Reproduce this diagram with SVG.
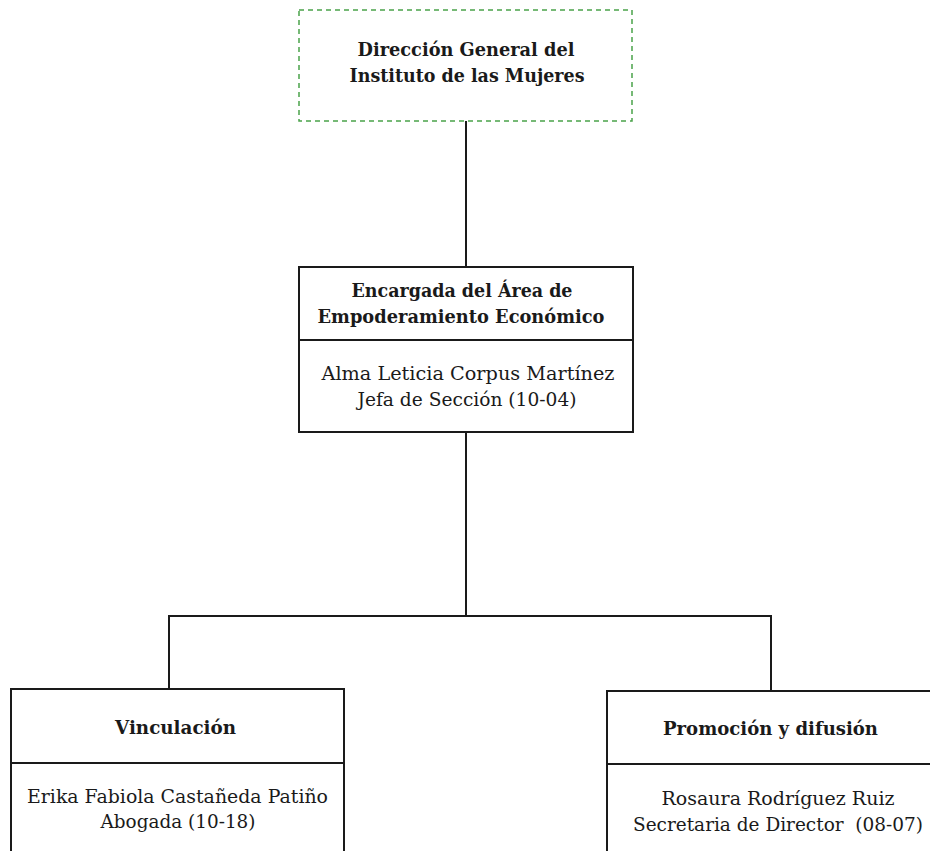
<svg xmlns="http://www.w3.org/2000/svg" width="930" height="851" viewBox="0 0 930 851">
<style>
.box{fill:#fff;stroke:#1a1a1a;stroke-width:2}
.dash{fill:#fff;stroke:#4aa24a;stroke-width:1.5;stroke-dasharray:5 4}
.div{stroke:#1a1a1a;stroke-width:2}
.con{fill:none;stroke:#1a1a1a;stroke-width:2}
.t{font-family:"DejaVu Serif","Liberation Serif",serif;fill:#1a1a1a;text-anchor:middle}
.b{font-weight:bold;font-size:18px}
.r{font-size:19px}
</style>
<rect width="930" height="851" fill="#fff"/>
<g id="connectors">
<line class="con" x1="466" y1="121" x2="466" y2="267"/>
<line class="con" x1="466" y1="432" x2="466" y2="616"/>
<polyline class="con" points="169,689 169,616 771,616 771,691"/>
</g>
<g id="n-direccion">
<rect class="dash" x="299" y="10" width="333" height="111"/>
<text class="t b" x="466" y="56" textLength="217" lengthAdjust="spacingAndGlyphs">Dirección General del</text>
<text class="t b" x="467" y="82" textLength="235" lengthAdjust="spacingAndGlyphs">Instituto de las Mujeres</text>
</g>
<g id="n-encargada">
<rect class="box" x="299" y="267" width="334" height="165"/>
<line class="div" x1="299" y1="340" x2="633" y2="340"/>
<text class="t b" x="462" y="297" textLength="221" lengthAdjust="spacingAndGlyphs">Encargada del Área de</text>
<text class="t b" x="461" y="323" textLength="287" lengthAdjust="spacingAndGlyphs">Empoderamiento Económico</text>
<text class="t r" x="468" y="380" textLength="293" lengthAdjust="spacingAndGlyphs">Alma Leticia Corpus Martínez</text>
<text class="t r" x="467" y="406" textLength="219" lengthAdjust="spacingAndGlyphs">Jefa de Sección (10-04)</text>
</g>
<g id="n-vinculacion">
<rect class="box" x="11" y="689" width="333" height="170"/>
<line class="div" x1="11" y1="763" x2="344" y2="763"/>
<text class="t b" x="175.5" y="734" textLength="121" lengthAdjust="spacingAndGlyphs">Vinculación</text>
<text class="t r" x="177.5" y="803" textLength="301" lengthAdjust="spacingAndGlyphs">Erika Fabiola Castañeda Patiño</text>
<text class="t r" x="178" y="828" textLength="155" lengthAdjust="spacingAndGlyphs">Abogada (10-18)</text>
</g>
<g id="n-promocion">
<rect class="box" x="607" y="691" width="340" height="170"/>
<line class="div" x1="607" y1="764" x2="947" y2="764"/>
<text class="t b" x="770.5" y="735" textLength="215" lengthAdjust="spacingAndGlyphs">Promoción y difusión</text>
<text class="t r" x="778" y="805" textLength="233" lengthAdjust="spacingAndGlyphs">Rosaura Rodríguez Ruiz</text>
<text class="t r" x="778" y="831" textLength="290" lengthAdjust="spacingAndGlyphs" xml:space="preserve">Secretaria de Director  (08-07)</text>
</g>
</svg>
